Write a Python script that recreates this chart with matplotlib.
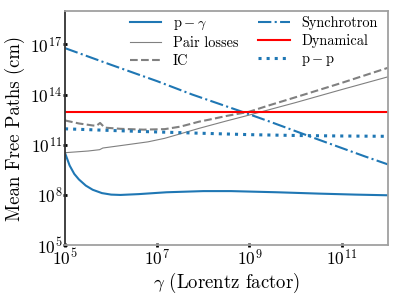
import matplotlib
matplotlib.use('Agg')
import matplotlib.pyplot as plt
import numpy as np

plt.rcParams['font.family'] = 'serif'
plt.rcParams['font.serif'] = ['cmr10', 'DejaVu Serif']
plt.rcParams['mathtext.fontset'] = 'cm'
plt.rcParams['axes.formatter.use_mathtext'] = True
plt.rcParams['axes.unicode_minus'] = False

# log10(gamma), log10(mean free path / cm)
lg_pg = [5.0, 5.1, 5.2, 5.3, 5.45, 5.6, 5.8, 6.0, 6.2, 6.6, 7.2, 8.0, 8.6,
         9.6, 10.5, 11.3, 12.0]
lm_pg = [10.5, 9.75, 9.25, 8.92, 8.55, 8.3, 8.1, 8.01, 7.99, 8.04, 8.15,
         8.22, 8.22, 8.15, 8.07, 8.01, 7.97]

lg_pair = [5.0, 5.5, 5.75, 5.82, 6.3, 6.8, 7.16, 7.5, 7.91, 8.5, 8.99, 10.0,
           11.0, 12.0]
lm_pair = [10.52, 10.62, 10.7, 10.8, 10.98, 11.17, 11.38, 11.65, 11.98, 12.42,
           12.77, 13.52, 14.3, 15.06]

lg_ic = [5.0, 5.3, 5.6, 5.68, 5.76, 5.86, 6.2, 6.7, 7.16, 7.5, 7.91, 8.13,
         8.5, 8.99, 9.42, 10.07, 11.0, 12.0]
lm_ic = [12.45, 12.27, 12.15, 12.13, 12.3, 12.02, 11.95, 11.9, 11.93, 12.08,
         12.38, 12.5, 12.72, 12.97, 13.35, 13.9, 14.7, 15.6]

lg_syn = [5.0, 6.0, 7.0, 7.76, 8.84, 9.42, 10.5, 11.5, 12.0]
lm_syn = [16.78, 15.78, 14.8, 14.0, 12.97, 12.4, 11.3, 10.3, 9.82]

lg_dyn = [5.0, 12.0]
lm_dyn = [12.93, 12.93]

lg_pp = [5.0, 6.0, 7.0, 8.0, 9.0, 10.0, 11.0, 12.0]
lm_pp = [11.95, 11.85, 11.76, 11.68, 11.6, 11.55, 11.52, 11.5]

blue = '#1f77b4'


def p(a):
    return 10.0 ** np.asarray(a)


fig = plt.figure(figsize=(3.99, 2.99), dpi=100)
ax = fig.add_axes([0.163, 0.181, 0.809, 0.782])

ax.plot(p(lg_pg), p(lm_pg), color=blue, lw=1.5, label=r'$\mathrm{p}-\gamma$')
ax.plot(p(lg_pair), p(lm_pair), color='gray', lw=0.8, label='Pair losses')
ax.plot(p(lg_ic), p(lm_ic), color='gray', lw=1.5, ls='--', label='IC')
ax.plot(p(lg_syn), p(lm_syn), color=blue, lw=1.5, ls='-.',
        label='Synchrotron')
ax.plot(p(lg_dyn), p(lm_dyn), color='red', lw=1.5, label='Dynamical')
ax.plot(p(lg_pp), p(lm_pp), color=blue, lw=2.2, ls=':',
        label=r'$\mathrm{p}-\mathrm{p}$')

ax.set_xscale('log')
ax.set_yscale('log')
ax.set_xlim(1e5, 1e12)
ax.set_ylim(1e5, 1e19)
ax.set_xticks([1e5, 1e7, 1e9, 1e11])
ax.set_yticks([1e5, 1e8, 1e11, 1e14, 1e17])
ax.minorticks_off()
ax.tick_params(direction='inout', length=3, width=2, color='black',
               labelsize=12.5, pad=0.5)

for s in ax.spines.values():
    s.set_color('#a0a0a0')
    s.set_linewidth(1.3)
ax.spines['left'].set_color('#333333')

ax.set_xlabel(r'$\gamma$ (Lorentz factor)', fontsize=13.5, labelpad=2)
ax.set_ylabel('Mean Free Paths (cm)', fontsize=13.5, labelpad=4)

ax.legend(ncol=2, frameon=False, fontsize=10.3, loc='upper center',
          bbox_to_anchor=(0.585, 1.035), columnspacing=1.4, handlelength=2.2,
          labelspacing=0.3)

fig.savefig('out.png', dpi=100)
